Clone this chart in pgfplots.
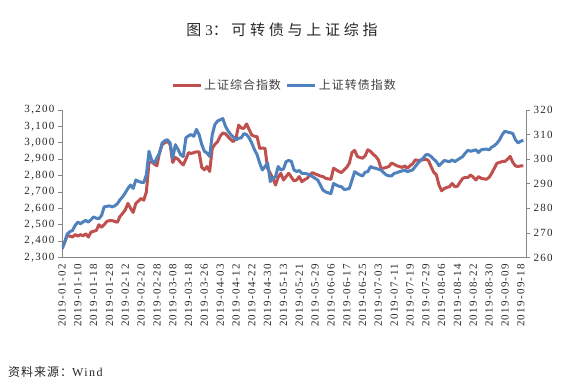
\documentclass[border=0pt]{standalone}
\usepackage{pgfplots}
\pgfplotsset{compat=1.18}
\usepackage{fontspec}
\setmainfont{Liberation Serif}
\newfontfamily\tickfont{Liberation Serif}[LetterSpace=12]
\newfontfamily\cjk{Noto Sans CJK SC}[LetterSpace=8]
\newfontfamily\cjktitle{Noto Sans CJK SC}[LetterSpace=25]
\definecolor{sred}{RGB}{192,80,77}
\definecolor{sblue}{RGB}{79,129,189}
\definecolor{axgray}{RGB}{134,134,134}

\pgfplotstableread{
i v
0 2355
1 2392
2 2435
3 2430
4 2425
5 2440
6 2430
7 2440
8 2432
9 2445
10 2425
11 2455
12 2460
13 2465
14 2500
15 2485
16 2500
17 2520
18 2525
19 2525
20 2520
21 2515
22 2550
23 2570
24 2590
25 2630
26 2600
27 2575
28 2630
29 2645
30 2660
31 2650
32 2700
33 2880
34 2885
35 2870
36 2860
37 2940
38 2990
39 3000
40 3010
41 2990
42 2880
43 2910
44 2900
45 2880
46 2865
47 2900
48 2940
49 2935
50 2940
51 2945
52 2945
53 2850
54 2835
55 2855
56 2825
57 2966
58 2990
59 3007
60 3040
61 3060
62 3055
63 3037
64 3020
65 3007
66 3027
67 3108
68 3090
69 3088
70 3115
71 3080
72 3047
73 3040
74 3037
75 2966
76 2968
77 2966
78 2844
79 2814
80 2783
81 2742
82 2790
83 2814
84 2773
85 2794
86 2814
87 2790
88 2768
89 2773
90 2794
91 2762
92 2775
93 2783
94 2804
95 2818
96 2810
97 2804
98 2797
99 2794
100 2783
101 2780
102 2777
103 2845
104 2835
105 2825
106 2818
107 2835
108 2850
109 2876
110 2941
111 2954
112 2917
113 2910
114 2906
115 2921
116 2957
117 2948
118 2930
119 2917
120 2896
121 2845
122 2845
123 2850
124 2855
125 2876
126 2869
127 2860
128 2855
129 2850
130 2859
131 2845
132 2860
133 2871
134 2896
135 2892
136 2894
137 2896
138 2900
139 2892
140 2855
141 2820
142 2804
143 2742
144 2707
145 2721
146 2728
147 2732
148 2752
149 2732
150 2735
151 2760
152 2783
153 2789
154 2789
155 2804
156 2790
157 2773
158 2794
159 2783
160 2780
161 2777
162 2789
163 2814
164 2845
165 2876
166 2880
167 2886
168 2886
169 2900
170 2917
171 2880
172 2859
173 2855
174 2859
175 2859
}\sse

\pgfplotstableread{
i v
0 263.5
1 266.2
2 269.6
3 270.5
4 271.0
5 273.1
6 274.4
7 273.7
8 274.5
9 275.1
10 274.4
11 275.4
12 276.5
13 276.0
14 275.8
15 277.1
16 280.6
17 280.8
18 281.0
19 280.6
20 281.0
21 281.9
22 283.5
23 284.7
24 286.3
25 288.1
26 289.5
27 288.1
28 291.5
29 291.0
30 290.6
31 290.5
32 293.6
33 303.2
34 299.7
35 298.4
36 300.5
37 302.5
38 306.6
39 307.5
40 307.9
41 306.6
42 300.4
43 305.9
44 304.0
45 301.8
46 301.1
47 308.7
48 309.5
49 310.0
50 309.3
51 312.1
52 310.0
53 306.0
54 303.2
55 302.5
56 301.1
57 310.0
58 314.1
59 315.5
60 316.0
61 316.5
62 313.4
63 311.5
64 310.0
65 309.0
66 307.9
67 308.5
68 308.7
69 310.4
70 310.0
71 308.7
72 306.5
73 303.9
74 301.8
75 298.4
76 295.6
77 297.0
78 298.4
79 290.9
80 292.2
81 292.9
82 297.0
83 295.6
84 296.0
85 299.0
86 299.5
87 299.1
88 295.6
89 295.0
90 295.4
91 294.2
92 294.2
93 294.0
94 293.6
95 292.9
96 292.2
97 291.5
98 289.5
99 287.4
100 286.7
101 286.3
102 286.0
103 290.1
104 289.5
105 289.0
106 288.8
107 287.7
108 287.8
109 288.1
110 291.5
111 294.9
112 294.2
113 293.6
114 293.2
115 294.7
116 294.9
117 297.0
118 296.5
119 296.3
120 295.9
121 295.6
122 294.5
123 293.6
124 293.2
125 293.2
126 294.2
127 294.5
128 294.9
129 295.2
130 295.6
131 294.9
132 295.3
133 295.6
134 297.0
135 298.4
136 299.5
137 300.4
138 301.8
139 301.8
140 301.1
141 300.0
142 299.0
143 297.3
144 298.4
145 299.5
146 299.2
147 299.0
148 299.7
149 299.0
150 299.7
151 300.4
152 301.1
153 302.5
154 303.6
155 303.2
156 303.5
157 303.8
158 302.7
159 303.8
160 304.0
161 304.1
162 303.8
163 304.9
164 305.5
165 306.5
166 307.9
167 310.0
168 311.4
169 311.0
170 310.8
171 310.4
172 307.9
173 306.6
174 307.3
175 307.7
}\cbond

\pgfplotsset{
  common/.style={
    scale only axis, width=464bp, height=147.5bp,
    xmin=0, xmax=176,
    enlargelimits=false,
    /pgf/number format/assume math mode=true,
    tick label style={font=\tickfont\fontsize{11bp}{13bp}\selectfont, text=black!85},
    axis line style={axgray, line width=0.8bp},
    tick style={axgray, line width=0.8bp},
    tick align=outside,
    major tick length=4bp,
    scaled y ticks=false,
  }
}

\begin{document}
\begin{tikzpicture}
\useasboundingbox (-62bp,-133.5bp) rectangle (510bp,257.5bp);
\begin{axis}[common,
  axis x line*=bottom, axis y line*=left,
  ymin=2300, ymax=3200,
  ytick={2300,2400,...,3200},
  yticklabel style={/pgf/number format/1000 sep={,}, /pgf/number format/fixed},
  xtick={0,6,...,174},
  xticklabels={2019-01-02,2019-01-10,2019-01-18,2019-01-28,2019-02-12,2019-02-20,2019-02-28,2019-03-08,2019-03-18,2019-03-26,2019-04-03,2019-04-12,2019-04-22,2019-04-30,2019-05-13,2019-05-21,2019-05-29,2019-06-06,2019-06-17,2019-06-25,2019-07-03,2019-07-11,2019-07-19,2019-07-29,2019-08-06,2019-08-14,2019-08-22,2019-08-30,2019-09-09,2019-09-18},
  xticklabel style={rotate=90, anchor=east, inner sep=2bp},
  x tick style={draw=none},
]
\addplot[sred, line width=3bp, line join=round] table[x=i, y=v] {\sse};
\end{axis}
\begin{axis}[common,
  axis x line=none, axis y line*=right,
  ymin=260, ymax=320,
  ytick={260,270,...,320},
  legend columns=2,
  legend style={draw=none, fill=none, at={(0.4795,1.1695)}, anchor=center,
    font=\cjk\fontsize{12bp}{14bp}\selectfont, text=black!75,
    /tikz/every even column/.append style={column sep=3bp},
    inner sep=0pt},
  legend image code/.code={\draw[#1] (0bp,0bp) -- (28bp,0bp);},
]
\addlegendimage{sred, line width=3bp}
\addlegendentry{上证综合指数}
\addplot[sblue, line width=3bp, line join=round] table[x=i, y=v] {\cbond};
\addlegendentry{上证转债指数}
\end{axis}
\node[text=black!85] at (220bp,227.5bp) {\fontsize{15bp}{18bp}\selectfont{\cjktitle 图}\hspace{4bp}{\tickfont 3}{\cjktitle ：可转债与上证综指}};
\node[anchor=west, inner sep=0pt, text=black!85] at (-54bp,-114.5bp) {\fontsize{12bp}{14bp}\selectfont{\cjk 资料来源：}{\tickfont Wind}};
\end{tikzpicture}
\end{document}
